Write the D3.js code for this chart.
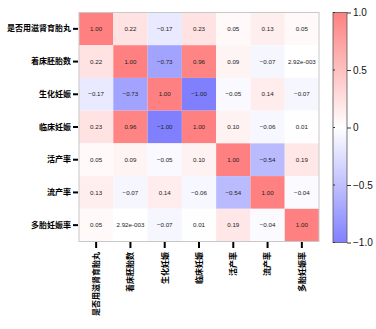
<!DOCTYPE html>
<html>
<head>
<meta charset="utf-8">
<script src="https://cdn.jsdelivr.net/npm/d3@7"></script>
<style>
  body { margin: 0; background: #fff; }
  svg { display: block; }
</style>
</head>
<body>
<div id="chart"></div>
<script>
// correlation heatmap
const variables = ['是否用滋肾育胎丸', '着床胚胎数', '生化妊娠', '临床妊娠', '活产率', '流产率', '多胎妊娠率'];
const row1 = [1.00, 0.22, -0.17, 0.23, 0.05, 0.13, 0.05];
const row2 = [0.22, 1.00, -0.73, 0.96, 0.09, -0.07, 0.00292];
const row3 = [-0.17, -0.73, 1.00, -1.00, -0.05, 0.14, -0.07];
const row4 = [0.23, 0.96, -1.00, 1.00, 0.10, -0.06, 0.01];
const row5 = [0.05, 0.09, -0.05, 0.10, 1.00, -0.54, 0.19];
const row6 = [0.13, -0.07, 0.14, -0.06, -0.54, 1.00, -0.04];
const row7 = [0.05, 0.00292, -0.07, 0.01, 0.19, -0.04, 1.00];
const colorbarTicks = [1.0, 0.5, 0, -0.5, -1.0];

(function () {
    const width = 376, height = 329;
    const rows = [row1, row2, row3, row4, row5, row6, row7];

    const svg = d3.select('#chart').append('svg')
        .attr('width', width)
        .attr('height', height);

    const x = d3.scaleBand().domain(variables).range([79, 319]);
    const y = d3.scaleBand().domain(variables).range([12.5, 241.5]);

    const color = d3.scaleLinear()
        .domain([-1, 0, 1])
        .range(['#8080ff', '#ffffff', '#ff8080']);

    const fmt = v => {
        if (v !== 0 && Math.abs(v) < 0.005) {
            const [m, e] = v.toExponential(2).split('e');
            const sign = e[0] === '-' ? '-' : '+';
            return m + 'e' + sign + String(Math.abs(+e)).padStart(3, '0');
        }
        return d3.format('.2f')(v).replace('−', '-');
    };

    const cells = [];
    rows.forEach((r, i) => r.forEach((v, j) => cells.push({ row: variables[i], col: variables[j], v })));

    svg.selectAll('rect.cell')
        .data(cells)
        .enter().append('rect')
        .attr('class', 'cell')
        .attr('x', d => x(d.col))
        .attr('y', d => y(d.row))
        .attr('width', x.bandwidth())
        .attr('height', y.bandwidth())
        .attr('fill', d => color(d.v));

    svg.selectAll('text.val')
        .data(cells)
        .enter().append('text')
        .attr('class', 'val')
        .attr('x', d => x(d.col) + x.bandwidth() / 2)
        .attr('y', d => y(d.row) + y.bandwidth() / 2)
        .attr('dy', '0.35em')
        .attr('text-anchor', 'middle')
        .attr('font-family', 'Liberation Sans, Arial, sans-serif')
        .attr('font-size', 6.2)
        .attr('fill', '#222')
        .text(d => fmt(d.v).replace('e+', 'e').replace(/^-/, '\u2212'));

    // frame
    svg.append('rect')
        .attr('x', 79).attr('y', 12.5)
        .attr('width', 240).attr('height', 229)
        .attr('fill', 'none')
        .attr('stroke', '#c8c8c8')
        .attr('stroke-width', 1);

    // y axis
    const yAxis = svg.append('g')
        .attr('transform', 'translate(78,0)')
        .call(d3.axisLeft(y).tickSize(5).tickPadding(2));
    yAxis.select('.domain').remove();
    yAxis.selectAll('line').attr('stroke', '#000').attr('stroke-width', 2);
    yAxis.selectAll('text')
        .attr('font-family', 'Noto Sans CJK SC, sans-serif')
        .attr('font-weight', 'bold')
        .attr('font-size', 8)
        .attr('fill', '#000');

    // x axis
    const xAxis = svg.append('g')
        .attr('transform', 'translate(0,242)')
        .call(d3.axisBottom(x).tickSize(6).tickPadding(3));
    xAxis.select('.domain').remove();
    xAxis.selectAll('line').attr('stroke', '#000').attr('stroke-width', 2);
    xAxis.selectAll('text')
        .attr('font-family', 'Noto Sans CJK SC, sans-serif')
        .attr('font-weight', 'bold')
        .attr('font-size', 8)
        .attr('fill', '#000')
        .attr('text-anchor', 'end')
        .attr('transform', 'translate(0,0) rotate(-90)')
        .attr('x', -10)
        .attr('y', 0)
        .attr('dy', '0.35em');

    // colorbar
    const cbX = 333, cbW = 14, cbTop = 12.5, cbBottom = 242.5;
    const cbScale = d3.scaleLinear().domain([-1, 1]).range([cbBottom, cbTop]);

    const defs = svg.append('defs');
    const grad = defs.append('linearGradient')
        .attr('id', 'cbgrad')
        .attr('x1', 0).attr('y1', 1).attr('x2', 0).attr('y2', 0);
    d3.range(-1, 1.001, 0.25).forEach(t => {
        grad.append('stop')
            .attr('offset', ((t + 1) / 2 * 100) + '%')
            .attr('stop-color', color(t));
    });

    svg.append('rect')
        .attr('x', cbX).attr('y', cbTop)
        .attr('width', cbW).attr('height', cbBottom - cbTop)
        .attr('fill', 'url(#cbgrad)')
        .attr('stroke', '#555')
        .attr('stroke-width', 0.8);

    const cbAxis = svg.append('g')
        .attr('transform', `translate(${cbX + cbW},0)`)
        .call(d3.axisRight(cbScale).tickValues(colorbarTicks).tickSize(4).tickPadding(2)
            .tickFormat(d => d === 0 ? '0' : d3.format('.1f')(d)));
    cbAxis.select('.domain').remove();
    cbAxis.selectAll('line').attr('stroke', '#333');
    cbAxis.selectAll('text')
        .attr('font-family', 'Liberation Sans, Arial, sans-serif')
        .attr('font-size', 10)
        .attr('fill', '#111');

    // inner ticks on left side of colorbar
    svg.append('g').selectAll('line')
        .data(colorbarTicks)
        .enter().append('line')
        .attr('x1', cbX).attr('x2', cbX + 2)
        .attr('y1', d => cbScale(d)).attr('y2', d => cbScale(d))
        .attr('stroke', '#333');
})();
</script>
</body>
</html>
